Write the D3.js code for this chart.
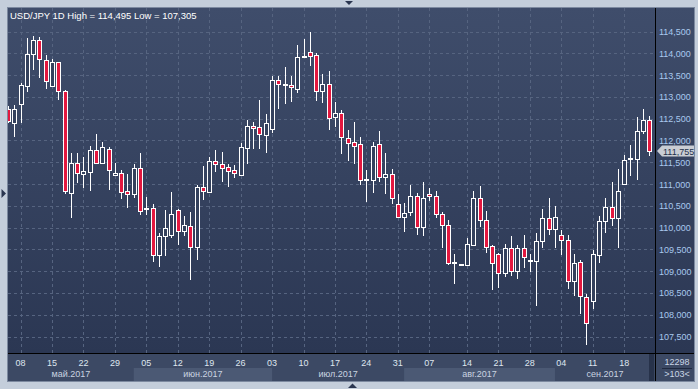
<!DOCTYPE html>
<html>
<head>
<meta charset="utf-8">
<script src="https://cdn.jsdelivr.net/npm/d3@7"></script>
<style>
  html, body { margin: 0; padding: 0; background: #c4cedb; }
  svg { display: block; font-family: "Liberation Sans", Arial, sans-serif; }
</style>
</head>
<body>
<svg id="chart" width="698" height="389"></svg>
<script>
// trading days shown (one odd weekend bar on 13 Aug, as in the source terminal)
const dates = [
  "2017-05-04","2017-05-05","2017-05-08","2017-05-09","2017-05-10","2017-05-11","2017-05-12",
  "2017-05-15","2017-05-16","2017-05-17","2017-05-18","2017-05-19","2017-05-22","2017-05-23",
  "2017-05-24","2017-05-25","2017-05-26","2017-05-29","2017-05-30","2017-05-31","2017-06-01",
  "2017-06-02","2017-06-05","2017-06-06","2017-06-07","2017-06-08","2017-06-09","2017-06-12",
  "2017-06-13","2017-06-14","2017-06-15","2017-06-16","2017-06-19","2017-06-20","2017-06-21",
  "2017-06-22","2017-06-23","2017-06-26","2017-06-27","2017-06-28","2017-06-29","2017-06-30",
  "2017-07-03","2017-07-04","2017-07-05","2017-07-06","2017-07-07","2017-07-10","2017-07-11",
  "2017-07-12","2017-07-13","2017-07-14","2017-07-17","2017-07-18","2017-07-19","2017-07-20",
  "2017-07-21","2017-07-24","2017-07-25","2017-07-26","2017-07-27","2017-07-28","2017-07-31",
  "2017-08-01","2017-08-02","2017-08-03","2017-08-04","2017-08-07","2017-08-08","2017-08-09",
  "2017-08-10","2017-08-11","2017-08-13","2017-08-14","2017-08-15","2017-08-16","2017-08-17",
  "2017-08-18","2017-08-21","2017-08-22","2017-08-23","2017-08-24","2017-08-25","2017-08-28",
  "2017-08-29","2017-08-30","2017-08-31","2017-09-01","2017-09-04","2017-09-05","2017-09-06",
  "2017-09-07","2017-09-08","2017-09-11","2017-09-12","2017-09-13","2017-09-14","2017-09-15",
  "2017-09-18","2017-09-19","2017-09-20","2017-09-21","2017-09-22"
];

const open = [
  112.73,112.40,112.83,113.26,113.98,114.30,113.84,113.25,113.79,113.13,
  110.80,111.49,111.23,111.28,111.77,111.48,111.81,111.20,111.26,110.83,
  110.77,111.36,110.44,110.44,109.38,109.81,109.84,110.40,109.92,110.04,
  109.55,110.92,110.82,111.52,111.45,111.38,111.31,111.21,111.83,112.34,
  112.30,112.13,112.27,113.39,113.28,113.27,113.19,113.93,114.04,113.96,
  113.14,113.29,112.54,112.62,112.05,111.96,111.91,111.10,111.10,111.91,
  111.16,111.24,110.53,110.24,110.36,110.73,110.01,110.78,110.73,110.32,
  110.05,109.19,109.16,109.13,109.61,110.67,110.18,109.57,109.39,108.95,
  109.54,109.01,109.54,109.24,109.23,109.70,110.23,109.97,109.82,109.72,
  108.77,109.22,108.41,108.31,109.38,110.16,110.48,110.23,111.01,111.58,
  111.58,112.21,112.48
];
const high = [
  112.78,112.81,113.31,114.34,114.40,114.37,113.96,113.87,113.80,113.15,
  111.72,111.70,111.61,111.87,112.14,111.96,111.85,111.48,111.32,111.22,
  111.47,111.70,110.71,110.53,109.87,110.40,110.81,110.42,110.26,110.35,
  110.97,111.41,111.61,111.78,111.73,111.45,111.43,111.93,112.47,112.43,
  112.93,112.60,113.48,113.48,113.68,113.48,114.19,114.33,114.495,114.01,
  113.52,113.59,112.88,112.70,112.24,112.43,112.07,111.32,111.96,112.21,
  111.70,111.34,110.76,110.57,110.97,110.79,111.05,110.90,110.83,110.36,
  110.17,109.40,109.17,109.77,110.83,110.95,110.37,109.61,109.42,109.63,
  109.80,109.59,109.82,109.40,109.88,110.42,110.67,110.49,109.94,109.82,
  109.39,109.25,108.47,109.49,110.26,110.68,111.04,111.34,111.66,111.89,
  112.53,112.71,112.56
];
const low = [
  112.40,112.08,112.39,113.12,113.61,113.44,113.18,113.23,112.93,110.78,
  110.22,111.02,110.91,110.84,111.45,111.47,110.86,111.19,110.65,110.45,
  110.68,110.30,110.30,109.21,109.09,109.34,109.75,109.59,109.80,108.79,
  109.25,110.63,110.82,111.28,111.05,110.93,111.13,111.19,111.45,111.80,
  111.80,111.71,112.17,112.73,112.83,112.89,113.10,113.91,113.71,112.91,
  112.85,112.25,112.31,111.68,111.53,111.45,110.97,110.59,110.79,111.05,
  110.76,110.53,110.21,109.90,110.27,109.84,109.81,110.61,110.22,109.53,
  109.15,108.71,109.15,109.12,109.59,110.01,109.41,108.56,108.61,108.86,
  108.88,108.81,109.07,108.99,108.21,109.53,109.84,109.53,109.36,108.58,
  108.43,108.01,107.305,108.12,109.19,109.87,110.04,109.53,111.01,111.18,
  111.10,112.14,111.65
];
const close = [
  112.45,112.71,113.27,113.98,114.30,113.87,113.36,113.79,113.13,110.83,
  111.49,111.26,111.29,111.77,111.48,111.84,111.32,111.26,110.82,110.77,
  111.36,110.38,110.46,109.38,109.80,110.00,110.32,109.92,110.05,109.55,
  110.92,110.84,111.52,111.45,111.37,111.30,111.25,111.84,112.34,112.29,
  112.15,112.39,113.39,113.29,113.29,113.22,113.91,113.94,113.93,113.14,
  113.29,112.52,112.62,112.07,111.95,111.88,111.10,111.11,111.88,111.16,
  111.24,110.67,110.24,110.34,110.73,110.01,110.67,110.73,110.32,110.05,
  109.19,109.20,109.16,109.63,110.67,110.17,109.55,109.19,108.95,109.54,
  109.00,109.54,109.32,109.25,109.70,110.23,109.97,110.25,109.72,108.77,
  109.19,108.43,107.81,109.39,110.16,110.47,110.23,110.83,111.56,111.59,
  112.21,112.47,111.755
];

const priceTicks = [107.5,108,108.5,109,109.5,110,110.5,111,111.5,112,112.5,113,113.5,114,114.5];
const monthNames = ["май.2017","июн.2017","июл.2017","авг.2017","сен.2017"];
const title = "USD/JPY 1D High = 114,495 Low = 107,305";
const lastPrice = 111.755;
const footerTop = "12298";
const footerBottom = ">103<";

const svg = d3.select("#chart");
const L = 8, T = 8, R = 655, B = 353, RA = 694, BA = 381;
const fmt = v => d3.format(".3f")(v).replace(".", ",");

// backgrounds
const defs = svg.append("defs");
const grad = defs.append("linearGradient").attr("id", "bg").attr("x1", 0).attr("y1", 0).attr("x2", 0).attr("y2", 1);
grad.append("stop").attr("offset", "0%").attr("stop-color", "#3f4d6b");
grad.append("stop").attr("offset", "100%").attr("stop-color", "#2b3753");
defs.append("clipPath").attr("id", "clip").append("rect")
  .attr("x", L).attr("y", T).attr("width", R - L).attr("height", B - T);

svg.append("rect").attr("x", L - 1).attr("y", T - 1).attr("width", RA - L + 2).attr("height", BA - T + 2).attr("fill", "#7d8aa0");
svg.append("rect").attr("x", L).attr("y", T).attr("width", RA - L).attr("height", B - T).attr("fill", "url(#bg)");
svg.append("rect").attr("x", L).attr("y", B).attr("width", RA - L).attr("height", BA - B).attr("fill", "#3c4964");

const x = d3.scalePoint().domain(dates).range([8, 649.3]);
const y = d3.scaleLinear().domain([107.5, 114.5]).range([336.5, 31.5]);

const mondays = dates.filter(d => new Date(d + "T12:00:00").getDay() === 1);
const monthStarts = dates.filter((d, i) => i === 0 || d.slice(5, 7) !== dates[i - 1].slice(5, 7));

// month bands in bottom axis
const monthSpans = monthStarts.map((d, i) => {
  const a = i === 0 ? L : x(d);
  const b = i + 1 < monthStarts.length ? x(monthStarts[i + 1]) : R;
  return { name: monthNames[i], a: a, b: b, i: i };
});
svg.append("g").selectAll("rect").data(monthSpans.filter(m => m.i % 2 === 1)).enter().append("rect")
  .attr("x", m => m.a).attr("y", 368).attr("width", m => m.b - m.a).attr("height", BA - 368)
  .attr("fill", "#4b5974");

// grid
const grid = svg.append("g").attr("stroke", "#566480").attr("stroke-width", 1).attr("stroke-dasharray", "3,3");
grid.selectAll(".h").data(priceTicks).enter().append("line")
  .attr("x1", L).attr("x2", R).attr("y1", d => Math.round(y(d)) + 0.5).attr("y2", d => Math.round(y(d)) + 0.5);
grid.selectAll(".v").data(mondays).enter().append("line")
  .attr("y1", T).attr("y2", B).attr("x1", d => Math.round(x(d)) + 0.5).attr("x2", d => Math.round(x(d)) + 0.5);

// candles
const bars = dates.map((d, i) => ({ d: d, o: open[i], h: high[i], l: low[i], c: close[i] }));
const plot = svg.append("g").attr("clip-path", "url(#clip)");
const g = plot.selectAll("g.c").data(bars).enter().append("g");
g.append("line")
  .attr("x1", b => Math.round(x(b.d)) + 0.5).attr("x2", b => Math.round(x(b.d)) + 0.5)
  .attr("y1", b => Math.round(y(b.h))).attr("y2", b => Math.round(y(b.l)))
  .attr("stroke", "#ffffff");
g.append("rect")
  .attr("x", b => Math.round(x(b.d)) - 2 + 0.5)
  .attr("y", b => Math.round(y(Math.max(b.o, b.c))) + 0.5)
  .attr("width", 4)
  .attr("height", b => Math.max(1, Math.round(y(Math.min(b.o, b.c))) - Math.round(y(Math.max(b.o, b.c)))))
  .attr("fill", b => b.c < b.o ? "#e3183f" : "#34415d")
  .attr("stroke", "#ffffff").attr("stroke-width", 1);

// axis lines
svg.append("line").attr("x1", R + 0.5).attr("x2", R + 0.5).attr("y1", T).attr("y2", BA).attr("stroke", "#000");
svg.append("line").attr("x1", L).attr("x2", RA).attr("y1", B + 0.5).attr("y2", B + 0.5).attr("stroke", "#000");
svg.append("rect").attr("x", 649).attr("y", B + 1).attr("width", 5).attr("height", BA - B - 1).attr("fill", "#27324a");

// right price axis
svg.append("g").selectAll("text").data(priceTicks).enter().append("text")
  .attr("x", 659).attr("y", d => y(d) + 3.5)
  .attr("font-size", 9).attr("fill", "#a9c9ee")
  .text(fmt);

// last price marker
const ly = y(lastPrice);
svg.append("path")
  .attr("d", `M657,${ly} L662,${ly - 5.5} L694,${ly - 5.5} L694,${ly + 5.5} L662,${ly + 5.5} Z`)
  .attr("fill", "#c9cdd4");
svg.append("text").attr("x", 663).attr("y", ly + 3.5).attr("font-size", 9).attr("fill", "#22304a").text(fmt(lastPrice));

// bottom day labels
svg.append("g").selectAll("text").data(mondays).enter().append("text")
  .attr("x", d => x(d)).attr("y", 366).attr("text-anchor", "middle")
  .attr("font-size", 9).attr("fill", "#dfe6ef")
  .text(d => d.slice(8, 10));
svg.append("g").selectAll("text").data(monthSpans).enter().append("text")
  .attr("x", m => (m.a + m.b) / 2).attr("y", 377).attr("text-anchor", "middle")
  .attr("font-size", 9).attr("fill", "#c9d3e0")
  .text(m => m.name);

// footer box at the right
svg.append("text").attr("x", 677).attr("y", 365).attr("text-anchor", "middle").attr("font-size", 9).attr("fill", "#c9d6e6").text(footerTop);
svg.append("line").attr("x1", 662).attr("x2", 692).attr("y1", 368.5).attr("y2", 368.5).attr("stroke", "#1f2940");
svg.append("text").attr("x", 677).attr("y", 377).attr("text-anchor", "middle").attr("font-size", 9).attr("fill", "#c9d6e6").text(footerBottom);

// title
svg.append("text").attr("x", 10).attr("y", 18.5).attr("font-size", 9.5).attr("fill", "#ffffff").text(title);

// frame arrows
svg.append("path").attr("d", "M345,1 L353,1 L349,5 Z").attr("fill", "#2a3650");
svg.append("path").attr("d", "M348,388 L357,388 L352.5,383.5 Z").attr("fill", "#2a3650");
svg.append("path").attr("d", "M1.5,189 L6,193.5 L1.5,198 Z").attr("fill", "#2a3650");
</script>
</body>
</html>
